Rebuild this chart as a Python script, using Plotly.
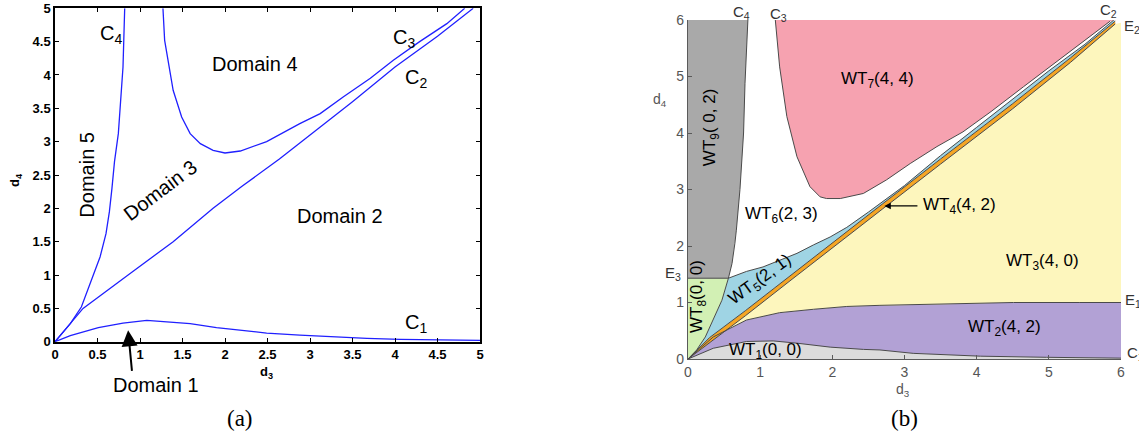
import plotly.graph_objects as go

W, H = 1139, 441

# ---------------- Panel (a) data ----------------
a_c1_x = [0, 0.18, 0.51, 0.80, 1.08, 1.31, 1.59, 1.90, 2.14, 2.49, 2.88, 3.27, 3.67, 4.06, 4.45, 4.8, 5.0]
a_c1_y = [0, 0.09, 0.21, 0.28, 0.32, 0.30, 0.27, 0.21, 0.18, 0.13, 0.10, 0.07, 0.05, 0.035, 0.03, 0.02, 0.02]
a_c2_x = [0, 0.33, 0.86, 1.39, 1.86, 2.2, 2.64, 3.0, 3.5, 4.0, 4.5, 4.92]
a_c2_y = [0, 0.5, 1.0, 1.5, 2.0, 2.33, 2.74, 3.1, 3.6, 4.12, 4.58, 5.0]
a_c3_x = [1.27, 1.29, 1.39, 1.49, 1.59, 1.71, 1.86, 2.0, 2.18, 2.49, 2.88, 3.12, 3.39, 3.71, 3.98, 4.29, 4.61, 4.82]
a_c3_y = [5.0, 4.52, 3.77, 3.37, 3.12, 2.97, 2.87, 2.83, 2.86, 3.0, 3.27, 3.42, 3.67, 3.95, 4.22, 4.5, 4.77, 5.0]
a_c4_x = [0, 0.18, 0.31, 0.43, 0.53, 0.60, 0.64, 0.67, 0.70, 0.745, 0.775, 0.80, 0.82]
a_c4_y = [0, 0.27, 0.52, 0.92, 1.27, 1.62, 1.95, 2.3, 2.7, 3.12, 3.6, 4.12, 5.0]

# ---------------- Panel (b) data ----------------
b_c4_x = [0, 0.12, 0.24, 0.35, 0.47, 0.56, 0.61, 0.65, 0.67, 0.72, 0.77, 0.79, 0.83]
b_c4_y = [0, 0.16, 0.39, 0.69, 1.04, 1.43, 1.69, 2.05, 2.28, 3.0, 4.0, 4.88, 6.0]
b_e3 = 1.43
b_e3_idx = 5
b_blue_x = [0.56, 0.81, 1.04, 1.27, 1.51, 1.74, 1.97, 2.2, 2.5, 3.0, 3.5, 4.0, 4.5, 5.0, 5.5, 5.9]
b_blue_y = [1.43, 1.55, 1.63, 1.75, 1.87, 2.02, 2.16, 2.33, 2.6, 3.07, 3.6, 4.1, 4.6, 5.1, 5.57, 6.0]
b_or_x = [0, 0.3, 0.8, 1.4, 2.0, 2.7, 3.5, 4.5, 5.3, 5.92]
b_or_lo = [0, 0.29, 0.77, 1.37, 1.97, 2.66, 3.45, 4.43, 5.25, 5.93]
b_or_hi = [0, 0.38, 0.86, 1.46, 2.06, 2.75, 3.54, 4.52, 5.33, 5.98]
b_c3_x = [1.21, 1.27, 1.37, 1.51, 1.69, 1.83, 1.92, 2.11, 2.43, 2.75, 3.08, 3.45, 3.81, 4.2, 4.65, 5.11, 5.57, 5.85]
b_c3_y = [6.0, 5.17, 4.29, 3.58, 3.05, 2.87, 2.84, 2.84, 2.93, 3.17, 3.46, 3.76, 4.02, 4.38, 4.82, 5.26, 5.70, 5.98]
b_e1_x = [0, 0.35, 0.81, 1.27, 1.74, 2.2, 2.66, 3.58, 4.51, 5.43, 6.0]
b_e1_y = [0, 0.39, 0.69, 0.82, 0.88, 0.93, 0.95, 0.97, 1.0, 1.0, 1.0]
b_c1_x = [0, 0.35, 0.81, 1.18, 1.51, 1.97, 2.43, 2.66, 3.12, 4.05, 4.97, 6.0]
b_c1_y = [0, 0.19, 0.31, 0.32, 0.28, 0.21, 0.17, 0.16, 0.10, 0.05, 0.03, 0.015]
b_yellow_right_top = 5.95

fig = go.Figure()

def px2paper(px, py):
    return px / W, (H - py) / H

lx0, lx1 = 55, 480
ly0, ly1 = 341.7, 8.3
rx0, rx1 = 688, 1121
ry0, ry1 = 359, 20

boldtick = dict(family='Liberation Sans, Arial', size=13, color='black', weight='bold')
graytick = dict(family='Liberation Sans, Arial', size=14, color='#555555')

fig.update_layout(
    width=W, height=H, margin=dict(l=0, r=0, t=0, b=0, autoexpand=False),
    paper_bgcolor='white', plot_bgcolor='white', showlegend=False,
    xaxis=dict(domain=[lx0 / W, lx1 / W], range=[0, 5], dtick=0.5, tick0=0, automargin=False,
               showline=True, linecolor='black', linewidth=1.5, mirror='ticks',
               ticks='inside', ticklen=4, tickcolor='black', showgrid=False, zeroline=False,
               tickfont=boldtick, anchor='y'),
    yaxis=dict(domain=[(H - ly0) / H, (H - ly1) / H], range=[0, 5], dtick=0.5, tick0=0,
               automargin=False,
               showline=True, linecolor='black', linewidth=1.5, mirror='ticks',
               ticks='inside', ticklen=4, tickcolor='black', showgrid=False, zeroline=False,
               tickfont=boldtick, anchor='x'),
    xaxis2=dict(domain=[rx0 / W, rx1 / W], range=[0, 6], dtick=1, tick0=0, automargin=False,
                showline=True, linecolor='#5a5a5a', linewidth=1.2,
                ticks='inside', ticklen=4, tickcolor='#5a5a5a', showgrid=False, zeroline=False,
                tickfont=graytick, anchor='y2'),
    yaxis2=dict(domain=[(H - ry0) / H, (H - ry1) / H], range=[0, 6], dtick=1, tick0=0,
                automargin=False,
                showline=True, linecolor='#5a5a5a', linewidth=1.2,
                ticks='inside', ticklen=4, tickcolor='#5a5a5a', showgrid=False, zeroline=False,
                tickfont=graytick, anchor='x2'),
)

# ---------- panel (a) curves ----------
for xs, ys in [(a_c1_x, a_c1_y), (a_c2_x, a_c2_y), (a_c3_x, a_c3_y), (a_c4_x, a_c4_y)]:
    fig.add_trace(go.Scatter(x=xs, y=ys, mode='lines', line=dict(color='#2020ff', width=1.3),
                             xaxis='x', yaxis='y', hoverinfo='skip'))

# ---------- panel (b) regions ----------
def poly(xs, ys, color):
    fig.add_trace(go.Scatter(x=xs, y=ys, mode='lines', fill='toself', fillcolor=color,
                             line=dict(width=0, color=color), xaxis='x2', yaxis='y2',
                             hoverinfo='skip'))

lowC4x = b_c4_x[:b_e3_idx + 1]
lowC4y = b_c4_y[:b_e3_idx + 1]
upC4x = b_c4_x[b_e3_idx:]
upC4y = b_c4_y[b_e3_idx:]

poly(b_c1_x + [6, 0], b_c1_y + [0, 0], '#dcdcdc')                                   # WT1
poly(b_e1_x + b_c1_x[::-1], b_e1_y + b_c1_y[::-1], '#b2a1d5')                       # WT2
poly(b_or_x + [6] + b_e1_x[::-1], b_or_lo + [b_yellow_right_top] + b_e1_y[::-1], '#fdf6bd')  # WT3
poly(b_or_x + b_or_x[::-1], b_or_lo + b_or_hi[::-1], '#f5a524')                     # WT4
poly(lowC4x + b_blue_x + b_or_x[::-1], lowC4y + b_blue_y + b_or_hi[::-1], '#9fd4e4')  # WT5
poly(lowC4x + [0], lowC4y + [b_e3], '#d2f0b4')                                      # WT8
poly([0] + upC4x + [0], [b_e3] + upC4y + [6], '#a9a9a9')                            # WT9
poly(b_c3_x + [5.92], b_c3_y + [6.0], '#f6a2b0')                                    # WT7

edge = dict(color='#4a4a4a', width=1)
for xs, ys in [(b_c4_x, b_c4_y), ([0, b_c4_x[b_e3_idx]], [b_e3, b_e3]), (b_blue_x, b_blue_y),
               (b_or_x, b_or_lo), (b_or_x, b_or_hi), (b_c3_x, b_c3_y), (b_e1_x, b_e1_y),
               (b_c1_x, b_c1_y)]:
    fig.add_trace(go.Scatter(x=xs, y=ys, mode='lines', line=edge, xaxis='x2', yaxis='y2',
                             hoverinfo='skip'))

# ---------- annotations ----------
ann = []
fa = dict(family='Liberation Sans, Arial', size=20, color='black')

def a_txt(text, x, y, angle=0, size=20):
    ann.append(dict(text=text, x=x, y=y, xref='x', yref='y', showarrow=False, textangle=angle,
                    xanchor='center', yanchor='middle',
                    font=dict(family='Liberation Sans, Arial', size=size, color='black')))

a_txt('C<sub>4</sub>', 0.66, 4.6)
a_txt('Domain 4', 2.35, 4.16)
a_txt('C<sub>3</sub>', 4.11, 4.55)
a_txt('C<sub>2</sub>', 4.25, 3.94)
a_txt('Domain 5', 0.38, 2.51, angle=-90)
a_txt('Domain 3', 1.24, 2.28, angle=-37)
a_txt('Domain 2', 3.35, 1.88)
a_txt('C<sub>1</sub>', 4.25, 0.27)

ann.append(dict(text='', x=0.86, y=0.17, xref='x', yref='y', showarrow=True,
                ax=4, ay=42, axref='pixel', ayref='pixel', arrowhead=2, arrowsize=1.6,
                arrowwidth=2, arrowcolor='black'))

def p_txt(text, qx, qy, font, angle=0, xanchor='center'):
    px, py = px2paper(qx, qy)
    ann.append(dict(text=text, x=px, y=py, xref='paper', yref='paper', showarrow=False,
                    textangle=angle, xanchor=xanchor, yanchor='middle', font=font))

p_txt('Domain 1', 156, 385, fa)
boldlab = dict(family='Liberation Sans, Arial', size=13, color='black', weight='bold')
p_txt('d<sub>3</sub>', 266, 372, boldlab)
p_txt('d<sub>4</sub>', 15, 180, boldlab, angle=-90)

serif = dict(family='Liberation Serif, Times New Roman', size=23, color='black')
p_txt('(a)', 240, 418, serif)
p_txt('(b)', 904, 418, serif)

def b_txt(text, x, y, angle=0, size=17, xanchor='center'):
    ann.append(dict(text=text, x=x, y=y, xref='x2', yref='y2', showarrow=False, textangle=angle,
                    xanchor=xanchor, yanchor='middle',
                    font=dict(family='Liberation Sans, Arial', size=size, color='black')))

b_txt('WT<sub>9</sub>( 0, 2)', 0.33, 4.1, angle=-90)
b_txt('WT<sub>7</sub>(4, 4)', 2.63, 4.94)
b_txt('WT<sub>6</sub>(2, 3)', 1.29, 2.55)
b_txt('WT<sub>5</sub>(2, 1)', 1.01, 1.40, angle=-36)
b_txt('WT<sub>8</sub>(0, 0)', 0.14, 1.1, angle=-90)
b_txt('WT<sub>1</sub>(0, 0)', 1.08, 0.14)
b_txt('WT<sub>2</sub>(4, 2)', 4.38, 0.54)
b_txt('WT<sub>3</sub>(4, 0)', 4.91, 1.72)
b_txt('WT<sub>4</sub>(4, 2)', 3.23, 2.71, xanchor='left')
ann.append(dict(text='', x=2.72, y=2.71, xref='x2', yref='y2', showarrow=True,
                ax=3.2, ay=2.71, axref='x2', ayref='y2', arrowhead=2, arrowsize=1,
                arrowwidth=1.3, arrowcolor='black'))

lab = dict(family='Liberation Sans, Arial', size=15, color='#333333')
p_txt('C<sub>4</sub>', 741, 13, lab)
p_txt('C<sub>3</sub>', 779, 14, lab)
p_txt('C<sub>2</sub>', 1108, 11, lab)
p_txt('E<sub>2</sub>', 1122, 27, lab, xanchor='left')
p_txt('E<sub>1</sub>', 1123, 300, lab, xanchor='left')
p_txt('C<sub>1</sub>', 1125, 353, lab, xanchor='left')
p_txt('E<sub>3</sub>', 673, 273, lab)

glab = dict(family='Liberation Sans, Arial', size=14, color='#555555')
p_txt('d<sub>4</sub>', 660, 100, glab)
p_txt('d<sub>3</sub>', 903, 390, glab)

fig.update_layout(annotations=ann)
fig.write_html('out.html', config={'displayModeBar': False},
               post_script="document.body.style.margin='0';")
